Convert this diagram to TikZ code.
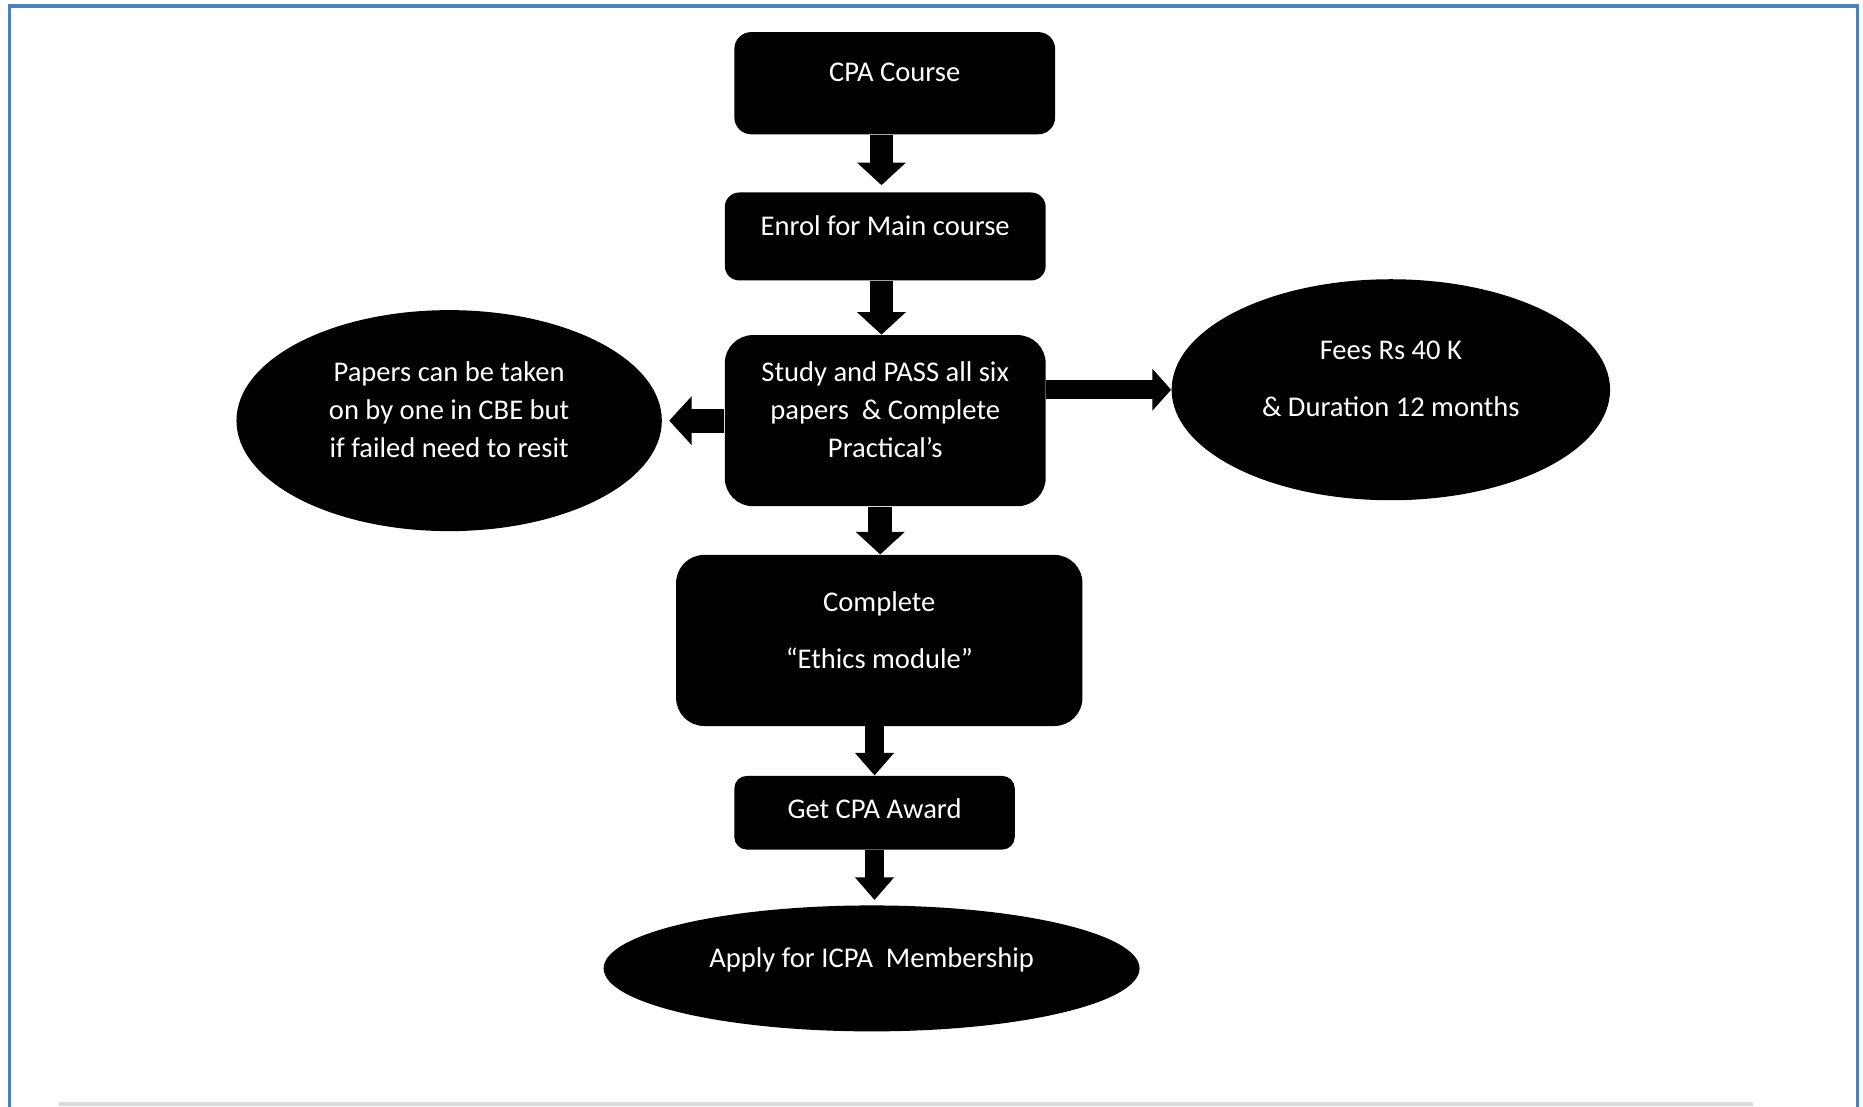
\documentclass[tikz,border=0pt]{standalone}
\usepackage{fontspec}
\setmainfont{Carlito}
\usepackage{xcolor}
\usepackage{tikz}
\usetikzlibrary{arrows.meta, positioning, calc, shapes.geometric}
\definecolor{frame}{HTML}{4F81BD}
\definecolor{rule}{HTML}{D9D9D9}

\begin{document}
\begin{tikzpicture}[
  box/.style={fill=black, text=white, align=center, inner sep=0pt,
              font=\fontsize{13}{17.3}\selectfont, text depth=9.8pt},
  oval/.style={ellipse, fill=black, text=white, align=center, inner sep=0pt,
               font=\fontsize{13}{17.3}\selectfont, text depth=9.8pt},
  arr/.style={-{Triangle[length=0.36cm, width=0.76cm]}, line width=0.38cm},
  thinarr/.style={-{Triangle[length=0.36cm, width=0.6cm]}, line width=0.29cm}
]
  \useasboundingbox (0,0) rectangle (29.79,-17.69);
  \draw[frame, line width=0.05cm] (0.152,-18) -- (0.152,-0.095) -- (29.70,-0.095) -- (29.70,-18);
  \draw[rule, line width=0.06cm] (0.95,-17.65) -- (28.03,-17.65);

  % main column
  \node[box, rounded corners=0.27cm, minimum width=5.13cm, minimum height=1.634cm] (cpa) at (14.307,-1.33) {CPA Course};
  \node[box, rounded corners=0.23cm, minimum width=5.13cm, minimum height=1.406cm] (enrol) at (14.155,-3.781) {Enrol for Main course};
  \node[box, rounded corners=0.45cm, minimum width=5.13cm, minimum height=2.736cm] (study) at (14.155,-6.726) {Study and PASS all six\\papers\ \ \& Complete\\Practical’s};
  \node[box, rounded corners=0.45cm, minimum width=6.498cm, minimum height=2.736cm] (ethics) at (14.06,-10.241) {Complete\\[8.6pt]“Ethics module”};
  \node[box, rounded corners=0.2cm, minimum width=4.484cm, minimum height=1.178cm, text depth=3.8pt] (award) at (13.984,-12.996) {Get CPA Award};
  \node[oval, minimum width=8.569cm, minimum height=2.014cm] (apply) at (13.937,-15.485) {Apply for ICPA\ \ Membership};

  % side notes
  \node[oval, minimum width=6.802cm, minimum height=3.534cm] (papers) at (7.182,-6.726) {Papers can be taken\\on by one in CBE but\\if failed need to resit};
  \node[oval, minimum width=7.011cm, minimum height=3.534cm] (fees) at (22.24,-6.232) {Fees Rs 40 K\\[8.6pt]\& Duration 12 months};

  \draw[arr, shorten >=0.11cm] ([xshift=-0.06cm]cpa.south -| enrol.north) -- ([xshift=-0.06cm]enrol.north);
  \draw[arr] ([xshift=-0.06cm]enrol.south) -- ([xshift=-0.06cm]study.north);
  \draw[arr] ([xshift=-0.08cm]study.south) -- ([xshift=-0.08cm]study.south |- ethics.north);
  \draw[thinarr] (ethics.south -| award.north) -- (award.north);
  \draw[thinarr, shorten >=0.08cm] (award.south) -- (award.south |- apply.north);
  \draw[arr, shorten >=0.11cm] (study.west) -- (papers.east);
  \draw[-{Triangle[length=0.3cm, width=0.65cm]}, line width=0.304cm] (study.east |- fees.west) -- (fees.west);
\end{tikzpicture}
\end{document}
